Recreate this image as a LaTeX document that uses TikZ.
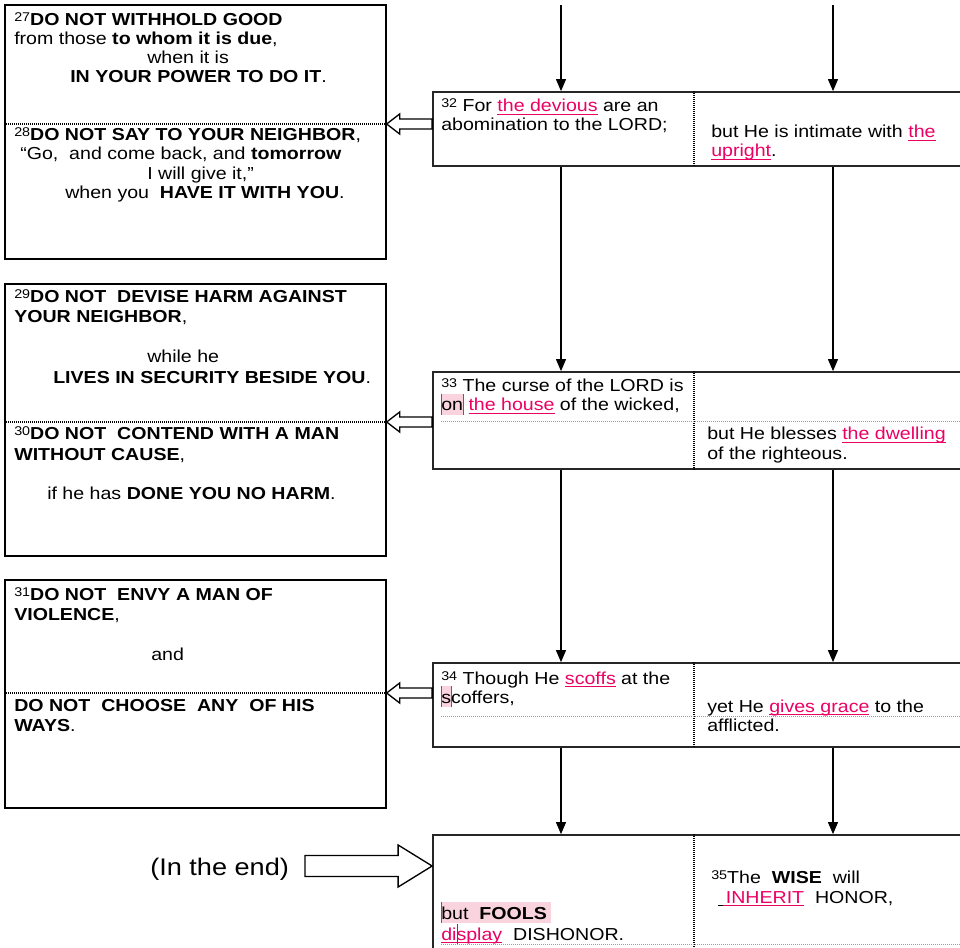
\documentclass[tikz,border=0pt]{standalone}
\usepackage{fontspec}
\setmainfont{Liberation Sans}[FakeStretch=1.13]
\usetikzlibrary{arrows.meta,fit,calc}
\definecolor{pk}{RGB}{235,0,100}
\definecolor{hlpink}{RGB}{249,212,222}
\definecolor{hledge}{RGB}{200,50,80}
\definecolor{dotpk}{RGB}{228,120,150}
\newcommand\vn[1]{\raisebox{3pt}{\fontsize{9.5}{9.5}\selectfont #1}}
\newsavebox\ulbox
\newcommand\pkul[1]{\sbox\ulbox{\color{pk}#1}\rlap{\color{pk}\rule[-2.4pt]{\wd\ulbox}{0.9pt}}\usebox\ulbox}
\newsavebox\hlbox
\newcommand\hlb[1]{\sbox\hlbox{#1}\rlap{\color{hlpink}\rule[-3pt]{\wd\hlbox}{15.5pt}}\rlap{\color{hledge}\rule[-3pt]{0.5pt}{15.5pt}}\rlap{\hspace{\wd\hlbox}\color{hledge}\rule[-3pt]{0.5pt}{15.5pt}}\usebox\hlbox}
\newcommand\hll[1]{\sbox\hlbox{#1}\rlap{\color{hlpink}\rule[-3pt]{\dimexpr\wd\hlbox+3pt\relax}{15.5pt}}\rlap{\color{hledge}\rule[-3pt]{0.5pt}{15.5pt}}\usebox\hlbox}
\tikzset{
  lbox/.style={draw, line width=1pt, inner sep=0pt},
  rbox/.style={draw=black!85, line width=1.3pt, inner sep=0pt},
  tx/.style={anchor=base west, inner sep=0pt, font=\fontsize{13}{15}\selectfont},
  conn/.style={-{Triangle[width=7.5pt,length=9pt]}, line width=0.8pt},
  sepdot/.style={line width=0.8pt, dash pattern=on 0.75pt off 0.75pt},
  pkdot/.style={dotpk, line width=0.6pt, dash pattern=on 0.75pt off 0.75pt},
  hollow/.style={draw, line width=1pt, fill=white, line join=miter},
}
\begin{document}
\begin{tikzpicture}[x=0.75pt,y=-0.75pt]
\useasboundingbox (0,0) rectangle (960,948);
\clip (0,0) rectangle (960,948);

% ---------- left boxes ----------
\node[lbox, fit={(5,5) (386,259)}] (L1) {};
\node[lbox, fit={(5,284) (386,556)}] (L2) {};
\node[lbox, fit={(5,580) (386,808)}] (L3) {};

% ---------- right boxes ----------
\node[rbox, fit={(433,92) (968,166)}] (R32) {};
\node[rbox, fit={(433,372) (968,469)}] (R33) {};
\node[rbox, fit={(433,663) (968,747)}] (R34) {};
\node[rbox, fit={(433,835) (968,975)}] (R35) {};

% ---------- helper coordinates ----------
\coordinate (c1) at (561,5);
\coordinate (c2) at (833,5);
\coordinate (dv) at (694,0);
\coordinate (y1) at (0,124);
\coordinate (y2) at (0,422);
\coordinate (y3) at (0,693);
\coordinate (y4) at (0,866);

% ---------- vertical connectors ----------
\draw[conn] (c1) -- (R32.north -| c1);
\draw[conn] (c2) -- (R32.north -| c2);
\draw[conn] (R32.south -| c1) -- (R33.north -| c1);
\draw[conn] (R32.south -| c2) -- (R33.north -| c2);
\draw[conn] (R33.south -| c1) -- (R34.north -| c1);
\draw[conn] (R33.south -| c2) -- (R34.north -| c2);
\draw[conn] (R34.south -| c1) -- (R35.north -| c1);
\draw[conn] (R34.south -| c2) -- (R35.north -| c2);

% ---------- dividers in right boxes ----------
\draw[sepdot] (R32.north -| dv) -- (R32.south -| dv);
\draw[sepdot] (R33.north -| dv) -- (R33.south -| dv);
\draw[sepdot] (R34.north -| dv) -- (R34.south -| dv);
\draw[sepdot] (R35.north -| dv) -- (R35.south -| dv);

% pink dotted baselines
\draw[pkdot] (441,421) -- (R33.east |- 0,421);
\draw[pkdot] (441,716) -- (R34.east |- 0,716);
\draw[pkdot] (441,944) -- (R35.east |- 0,944);

% ---------- separators in left boxes ----------
\draw[sepdot] (L1.west |- y1) -- (L1.east |- y1);
\draw[sepdot] (L2.west |- y2) -- (L2.east |- y2);
\draw[sepdot] (L3.west |- y3) -- (L3.east |- y3);

% ---------- hollow arrows (right box -> left box) ----------
\foreach \yy/\R/\L in {y1/R32/L1, y2/R33/L2, y3/R34/L3}{
  \draw[hollow] (\L.east |- \yy) -- ++(13,-10) -- ++(0,5) -- ($(\R.west |- \yy)+(0,-5)$)
     -- ($(\R.west |- \yy)+(0,5)$) -- ($(\L.east |- \yy)+(13,5)$) -- ++(0,5) -- cycle;
}

% ---------- bottom "(In the end)" arrow ----------
\node[anchor=base west, inner sep=0pt, font=\fontsize{18}{20}\selectfont] (theend) at (150,875) {(In the end)};
\coordinate (bt) at (305,866);
\draw[hollow] (R35.west |- y4) -- ++(-34,-21) -- ++(0,10.5) -- ($(bt)+(0,-10.5)$)
   -- ($(bt)+(0,10.5)$) -- ($(R35.west |- y4)+(-34,10.5)$) -- ++(0,10.5) -- cycle;

% ---------- text: left box 1 ----------
\node[tx] (a1) at (14,26) {\vn{27}\textbf{DO NOT WITHHOLD GOOD}};
\node[tx] (a2) at (14,45) {from those \textbf{to whom it is due},};
\node[tx] (a3) at (147,64) {when it is};
\node[tx] (a4) at (70,83) {\textbf{IN YOUR POWER TO DO IT}.};
\node[tx] (a5) at (14,141) {\vn{28}\textbf{DO NOT SAY TO YOUR NEIGHBOR},};
\node[tx] (a6) at (20,160) {“Go,\ \ and come back, and \textbf{tomorrow}};
\node[tx] (a7) at (147,180) {I will give it,”};
\node[tx] (a8) at (65,199) {when you\ \ \textbf{HAVE IT WITH YOU}.};

% ---------- text: left box 2 ----------
\node[tx] (b1) at (14,303) {\vn{29}\textbf{DO NOT\ \ DEVISE HARM AGAINST}};
\node[tx] (b2) at (14,323) {\textbf{YOUR NEIGHBOR},};
\node[tx] (b3) at (147,363) {while he};
\node[tx] (b4) at (53,383) {\textbf{LIVES IN SECURITY BESIDE YOU}.};
\node[tx] (b5) at (14,440) {\vn{30}\textbf{DO NOT\ \ CONTEND WITH A MAN}};
\node[tx] (b6) at (14,460) {\textbf{WITHOUT CAUSE},};
\node[tx] (b7) at (47,499) {if he has \textbf{DONE YOU NO HARM}.};

% ---------- text: left box 3 ----------
\node[tx] (c1t) at (14,600) {\vn{31}\textbf{DO NOT\ \ ENVY A MAN OF}};
\node[tx] (c2t) at (14,620) {\textbf{VIOLENCE},};
\node[tx] (c3t) at (151,660) {and};
\node[tx] (c4t) at (14,711) {\textbf{DO NOT\ \ CHOOSE\ \ ANY\ \ OF HIS}};
\node[tx] (c5t) at (14,731) {\textbf{WAYS}.};

% ---------- text: right box 32 ----------
\node[tx] (d1) at (441,112) {\vn{32} For \pkul{the devious} are an};
\node[tx] (d2) at (441,131) {abomination to the LORD;};
\node[tx] (d3) at (711,138) {but He is intimate with \pkul{the}};
\node[tx] (d4) at (711,157) {\pkul{upright}.};

% ---------- text: right box 33 ----------
\node[tx] (e1) at (441,392) {\vn{33} The curse of the LORD is};
\node[tx] (e2) at (441,411) {\hlb{on} \pkul{the house} of the wicked,};
\node[tx] (e3) at (707,440) {but He blesses \pkul{the dwelling}};
\node[tx] (e4) at (707,459) {of the righteous.};

% ---------- text: right box 34 ----------
\node[tx] (f1) at (441,684) {\vn{34} Though He \pkul{scoffs} at the};
\node[tx] (f2) at (441,703) {\hlb{s}coffers,};
\node[tx] (f3) at (707,712) {yet He \pkul{gives grace} to the};
\node[tx] (f4) at (707,731) {afflicted.};

% ---------- text: right box 35 ----------
\node[tx] (g1) at (711,883) {\vn{35}The\ \ \textbf{WISE}\ \ will};
\node[tx] (g2) at (718,903) {\rule[-2.4pt]{3.5pt}{0.9pt}\pkul{\,INHERIT}\ \ HONOR,};
\node[tx] (g3) at (441,919) {\hll{but\ \ \textbf{FOOLS}}};
\node[tx] (g4) at (441,940) {\pkul{di}\rlap{\color{black!70}\rule[-3pt]{0.5pt}{15pt}}\pkul{splay}\ \ DISHONOR.};
\end{tikzpicture}
\end{document}
